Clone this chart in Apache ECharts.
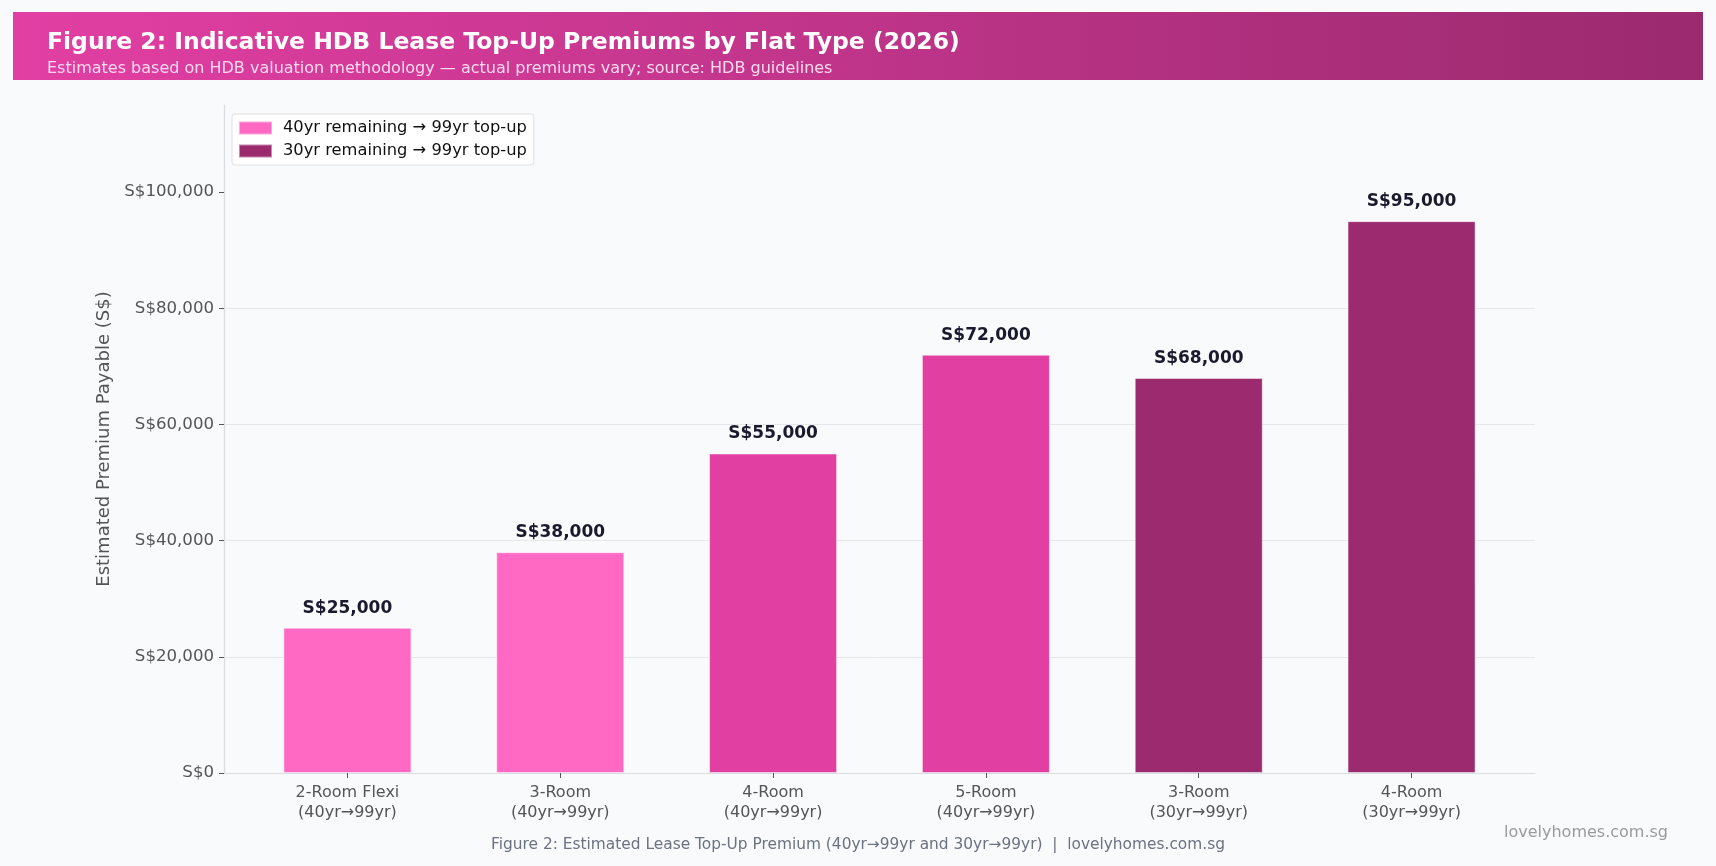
<!DOCTYPE html>
<html>
<head>
<meta charset="utf-8">
<title>HDB Lease Top-Up Premiums</title>
<script src="https://cdn.jsdelivr.net/npm/echarts@6/dist/echarts.min.js"></script>
<style>
  html, body { margin: 0; padding: 0; background: #f8fafc; }
  #chart { width: 1716px; height: 866px; }
</style>
</head>
<body>
<div id="chart"></div>
<script>
// data
const categories = [
  '2-Room Flexi\n(40yr→99yr)',
  '3-Room\n(40yr→99yr)',
  '4-Room\n(40yr→99yr)',
  '5-Room\n(40yr→99yr)',
  '3-Room\n(30yr→99yr)',
  '4-Room\n(30yr→99yr)'
]
const premium40 = [25000, 38000, 55000, 72000]   // categories 0..3
const premium30 = [68000, 95000]                 // categories 4..5
const yTicks = [0, 20000, 40000, 60000, 80000, 100000]
const xTicks = [0, 1, 2, 3, 4, 5]

// colours per bar
const colorLight = '#ff69c4'
const colorMid = '#e23fa3'
const colorDark = '#9b2a6f'
const barColors40 = [colorLight, colorLight, colorMid, colorMid]

const font = '"DejaVu Sans", sans-serif'
const money = v => 'S$' + v.toLocaleString('en-US')

const chart = echarts.init(document.getElementById('chart'), null, { renderer: 'canvas' })

const labelStyle = {
  show: true,
  position: 'top',
  distance: 11,
  fontFamily: font,
  fontSize: 17,
  fontWeight: 'bold',
  color: '#1a1a2e',
  formatter: p => money(p.value[1])
}

const option = {
  backgroundColor: '#f8fafc',
  animation: false,
  textStyle: { fontFamily: font },
  graphic: [
    {
      type: 'rect',
      shape: { x: 13, y: 12, width: 1690, height: 68 },
      style: {
        fill: new echarts.graphic.LinearGradient(0, 0, 1, 0, [
          { offset: 0, color: '#e23fa3' },
          { offset: 1, color: '#9b2a6f' }
        ])
      },
      z: -1
    },
    {
      type: 'text',
      x: 47, y: 43,
      style: { text: 'Figure 2: Indicative HDB Lease Top-Up Premiums by Flat Type (2026)', fill: '#ffffff', font: 'bold 23.5px ' + font, verticalAlign: 'middle' }
    },
    {
      type: 'text',
      x: 47, y: 69,
      style: { text: 'Estimates based on HDB valuation methodology — actual premiums vary; source: HDB guidelines', fill: '#ffd9ee', font: '16px ' + font, verticalAlign: 'middle' }
    },
    {
      type: 'text',
      x: 858, y: 845,
      style: { text: 'Figure 2: Estimated Lease Top-Up Premium (40yr→99yr and 30yr→99yr)  |  lovelyhomes.com.sg', fill: '#6b7280', font: '15.4px ' + font, align: 'center', verticalAlign: 'middle' }
    },
    {
      type: 'text',
      x: 1668, y: 833,
      style: { text: 'lovelyhomes.com.sg', fill: '#9a9a9a', font: '16px ' + font, align: 'right', verticalAlign: 'middle' }
    }
  ],
  legend: {
    left: 232, top: 114,
    orient: 'vertical',
    padding: [6, 7, 6, 6],
    itemGap: 7,
    itemWidth: 33, itemHeight: 13,
    backgroundColor: '#ffffff',
    borderColor: '#e0e0e0',
    borderWidth: 1,
    borderRadius: 3,
    icon: 'rect',
    textStyle: { fontFamily: font, fontSize: 16.3, color: '#111111', padding: [0, 0, 0, 6] },
    data: ['40yr remaining → 99yr top-up', '30yr remaining → 99yr top-up']
  },
  grid: { left: 224, right: 181, top: 105, bottom: 93, containLabel: false },
  xAxis: {
    type: 'value',
    min: -0.58, max: 5.58,
    splitLine: { show: false },
    axisLine: { show: true, lineStyle: { color: '#d9dce1', width: 1.2 } },
    axisTick: { show: true, customValues: xTicks, length: 5, lineStyle: { color: '#555555' } },
    axisLabel: {
      customValues: xTicks,
      formatter: v => categories[Math.round(v)],
      fontFamily: font, fontSize: 16, color: '#555555', lineHeight: 20, margin: 10
    }
  },
  yAxis: {
    type: 'value',
    min: 0, max: 115000, interval: 20000,
    name: 'Estimated Premium Payable (S$)',
    nameLocation: 'middle',
    nameGap: 110,
    nameTextStyle: { fontFamily: font, fontSize: 18, color: '#555555' },
    axisLine: { show: true, onZero: false, lineStyle: { color: '#d9dce1', width: 1.2 } },
    axisTick: { show: true, customValues: yTicks, length: 5, lineStyle: { color: '#555555' } },
    axisLabel: { customValues: yTicks, formatter: money, fontFamily: font, fontSize: 16.6, color: '#555555', margin: 10 },
    splitLine: { show: true, showMinLine: false, showMaxLine: false, lineStyle: { color: '#e5e7eb', width: 1 } }
  },
  series: [
    {
      name: '40yr remaining → 99yr top-up',
      type: 'bar',
      stack: 'all',
      barWidth: 128,
      itemStyle: { color: colorLight, borderColor: 'rgba(255,255,255,0.45)', borderWidth: 1 },
      label: labelStyle,
      data: premium40.map((v, i) => ({ value: [i, v], itemStyle: { color: barColors40[i] } }))
    },
    {
      name: '30yr remaining → 99yr top-up',
      type: 'bar',
      stack: 'all',
      barWidth: 128,
      itemStyle: { color: colorDark, borderColor: 'rgba(255,255,255,0.45)', borderWidth: 1 },
      label: labelStyle,
      data: premium30.map((v, i) => ({ value: [i + premium40.length, v] }))
    }
  ]
}

chart.setOption(option)

window.addEventListener('resize', () => chart.resize())
</script>
</body>
</html>
